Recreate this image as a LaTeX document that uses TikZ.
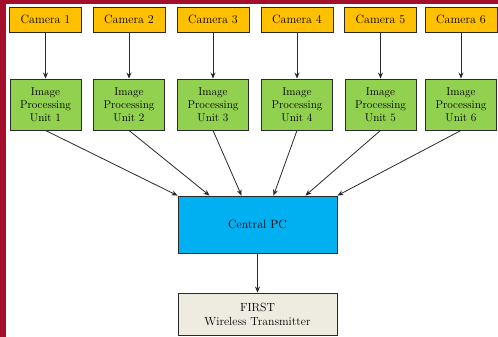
\documentclass[tikz,border=0pt]{standalone}
\usetikzlibrary{calc,arrows.meta}
\definecolor{bandred}{HTML}{A50E2B}
\definecolor{camfill}{HTML}{FFC000}
\definecolor{ipufill}{HTML}{92D050}
\definecolor{pcfill}{HTML}{00B0F0}
\definecolor{txfill}{HTML}{EEECE1}
\definecolor{edge}{HTML}{2A2A2A}
\begin{document}
\begin{tikzpicture}[x=1pt,y=-1pt,
  box/.style={draw=edge,line width=0.9pt,inner sep=0pt,align=center,text=black},
  cambox/.style={box,fill=camfill,minimum width=72pt,minimum height=25pt,font=\fontsize{12}{14}\selectfont},
  ipubox/.style={box,fill=ipufill,minimum width=71pt,minimum height=51pt,font=\fontsize{11.3}{13}\selectfont},
  pcbox/.style={box,fill=pcfill,minimum width=159pt,minimum height=57pt,font=\fontsize{12}{15}\selectfont},
  txbox/.style={box,fill=txfill,minimum width=159pt,minimum height=42pt,font=\fontsize{11.8}{14}\selectfont},
  arr/.style={draw=edge,line width=0.8pt,-{Stealth[length=6pt,width=5pt]}}]
\useasboundingbox (0,0) rectangle (498,337);
\fill[white] (0,0) rectangle (498,337);
\fill[bandred] (0,0) rectangle (6,337);
\fill[bandred] (0,0) rectangle (498,4);
\foreach \i/\x in {1/45.5,2/129,3/213,4/297,5/380.5,6/461}{
  \node[cambox] (cam\i) at (\x,19.5) {Camera \i};
  \node[ipubox] (ipu\i) at (\x,104.5) {Image\\Processing\\Unit \i};
  \draw[arr] (cam\i) -- (ipu\i);
}
\node[pcbox] (pc) at (257.5,224.5) {Central PC};
\node[txbox] (tx) at (257.5,314) {FIRST\\Wireless Transmitter};
\foreach \i/\f in {1/0,2/0.2,3/0.4,4/0.6,5/0.8,6/1}{
  \draw[arr] (ipu\i.south) -- ($(pc.north west)!\f!(pc.north east)$);
}
\draw[arr] (pc) -- (tx);
\end{tikzpicture}
\end{document}
